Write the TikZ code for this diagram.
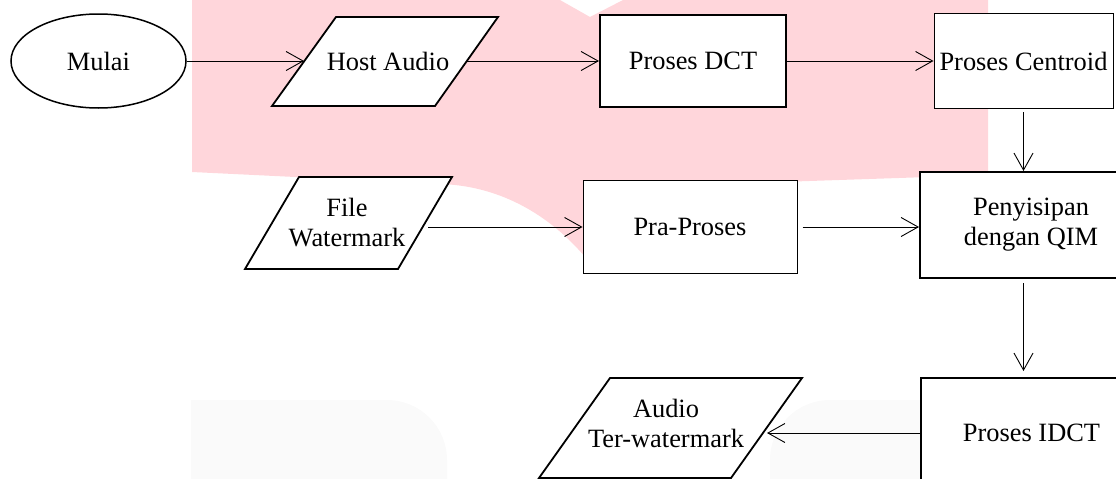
\documentclass[tikz,border=0pt]{standalone}
\usepackage{fontspec}
\setmainfont{Liberation Serif}
\usetikzlibrary{shapes.geometric,arrows.meta}
\definecolor{logopink}{HTML}{FFD6DB}
\definecolor{logogrey}{HTML}{FAFAFA}
\begin{document}
\begin{tikzpicture}[x=1pt,y=-1pt,
  every node/.style={font=\fontsize{26.4}{30}\selectfont, align=center, inner sep=0pt},
  flow/.style={draw, line width=0.9pt, -{Straight Barb[length=17pt,width=19pt,line width=0.9pt]}},
  thinbox/.style={draw, fill=white, line width=1pt, rectangle},
  thickbox/.style={draw, fill=white, line width=2pt, rectangle},
  iobox/.style={draw, fill=white, line width=1.8pt, line join=miter},
  startstop/.style={draw, fill=white, line width=1.5pt, ellipse}]
\useasboundingbox (0,0) rectangle (1116,479);
\clip (0,0) rectangle (1116,479);

% logo in the background
\fill[logopink] (192,0) -- (192,172) -- (440,184)
  .. controls (510,186) and (560,225) .. (590,263)
  .. controls (620,225) and (655,188) .. (720,184)
  -- (988,175) -- (988,0) -- (623,0) -- (590,17) -- (560,0) -- cycle;
\fill[logogrey] (191,479) -- (191,400) -- (387,400)
  arc[start angle=270, end angle=360, radius=60] -- (447,479) -- cycle;
\fill[logogrey] (770,479) -- (770,460)
  arc[start angle=180, end angle=270, radius=60] -- (988,400) -- (988,479) -- cycle;

% input/output parallelograms
\draw[iobox] (336,17) -- (498,17) -- (435,106) -- (272,106) -- cycle;
\draw[iobox] (299,177) -- (452,177) -- (398,269) -- (245,269) -- cycle;
\draw[iobox] (610,378) -- (802,378) -- (731,478) -- (539,478) -- cycle;
\coordinate (host-in) at (304,61);
\coordinate (host-out) at (466,61);
\coordinate (file-out) at (428,227);
\coordinate (out-in) at (767,433);

% flowchart blocks
\node[startstop, minimum width=175pt, minimum height=94pt] (start) at (98.5,61) {Mulai};
\node (host) at (388,61) {Host Audio};
\node[thickbox, minimum width=186pt, minimum height=92pt] (dct) at (693,61) {Proses DCT};
\node[thinbox, minimum width=179pt, minimum height=95pt] (cent) at (1023.5,61) {Proses Centroid};
\node[thickbox, minimum width=222pt, minimum height=106pt] (qim) at (1031,225) {Penyisipan\\dengan QIM};
\node[thinbox, minimum width=214pt, minimum height=93pt] (pra) at (690,227) {Pra-Proses};
\node (file) at (347,223) {File\\Watermark};
\node[thickbox, minimum width=221pt, minimum height=110pt] (idct) at (1031.5,433) {Proses IDCT};
\node (out) at (666,423) {Audio\\Ter-watermark};

% connectors
\draw[flow] (start) -- (host-in);
\draw[flow] (host-out) -- (dct);
\draw[flow] (dct) -- (cent);
\draw[flow, shorten <=3pt] (cent.south) -- (cent.south |- qim.north);
\draw[flow] (file-out) -- (pra.west);
\draw[flow, shorten <=5pt] (pra.east) -- (pra.east -| qim.west);
\draw[flow, shorten <=4pt, shorten >=6pt] (qim.south -| cent.south) -- (idct.north -| cent.south);
\draw[flow] (idct.west) -- (out-in);
\end{tikzpicture}
\end{document}
